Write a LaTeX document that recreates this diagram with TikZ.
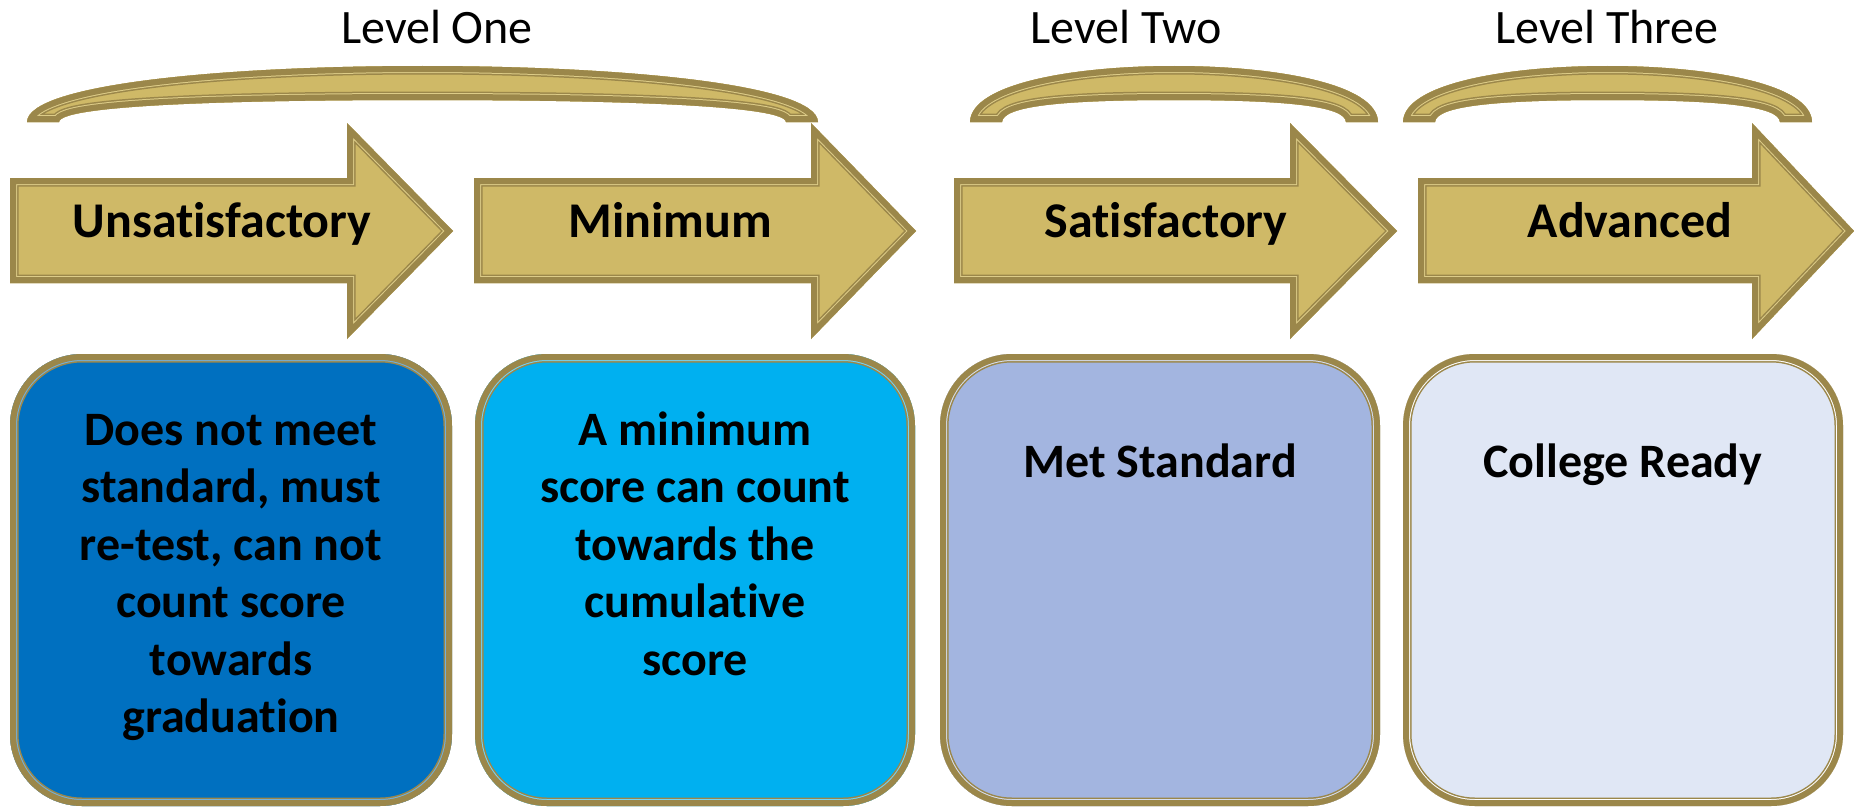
\documentclass[tikz,border=0pt]{standalone}
\usepackage{fontspec}
\setmainfont[Ligatures=NoCommon]{Carlito}
\definecolor{golddark}{HTML}{9B874A}
\definecolor{goldfill}{HTML}{CFB967}
\definecolor{goldgap}{HTML}{DDCC88}
\definecolor{boxA}{HTML}{0070C0}
\definecolor{boxB}{HTML}{00B0F0}
\definecolor{boxC}{HTML}{A3B5E0}
\definecolor{boxD}{HTML}{E0E7F5}
\tikzset{
  edgeband/.style={draw=golddark},
  leveltext/.style={font=\fontsize{48}{58}\selectfont, anchor=base, inner sep=0pt},
  arrowtext/.style={font=\bfseries\fontsize{50}{60}\selectfont, anchor=base, inner sep=0pt},
  boxtext/.style={font=\bfseries\fontsize{48}{57.5}\selectfont, align=center, anchor=base, inner sep=0pt},
}
% #1 scope options, #2 fill, #3 gap colour, #4 path
\newcommand\framedshape[4][]{%
  \begin{scope}[#1]
    \clip #4;
    \fill[#2] #4;
    \draw[edgeband, line width=17pt] #4;
    \draw[draw=#3, line width=14pt] #4;
    \draw[edgeband, line width=12pt] #4;
  \end{scope}}
% arrow: #1 left, #2 head start, #3 tip
\newcommand\arrowpath[3]{(#1,178) -- (#2,178) -- (#2,123) -- (#3,231) -- (#2,339) -- (#2,283) -- (#1,283) -- cycle}
% brace: #1 left, #2 right
\newcommand\bracepath[2]{(#1,122) .. controls ({#1+1},84) and ({#1+0.25*(#2-#1)},66) .. ({(#1+#2)/2},66)
  .. controls ({#2-0.25*(#2-#1)},66) and ({#2-1},84) .. (#2,122) -- ({#2-32},122)
  .. controls ({#2-33},106) and ({#2-0.25*(#2-#1)+10},100) .. ({(#1+#2)/2},100)
  .. controls ({#1+0.25*(#2-#1)-10},100) and ({#1+33},106) .. ({#1+32},122) -- cycle}
\begin{document}
\begin{tikzpicture}[x=1pt,y=-1pt]
\useasboundingbox (0,0) rectangle (1854,808);
\begin{scope}
\clip (0,0) rectangle (1854,808);
% level labels
\node[leveltext] (lv1) at (437,44) {Level One};
\node[leveltext] (lv2) at (1126,44) {Level Two};
\node[leveltext] (lv3) at (1607,44) {Level Three};
% braces
\framedshape{goldfill}{goldgap}{\bracepath{27}{818}}
\framedshape{goldfill}{goldgap}{\bracepath{970}{1378}}
\framedshape{goldfill}{goldgap}{\bracepath{1403}{1812}}
% arrows
\framedshape[line join=miter]{goldfill}{goldgap}{\arrowpath{10}{347}{453}}
\framedshape[line join=miter]{goldfill}{goldgap}{\arrowpath{474}{811}{916}}
\framedshape[line join=miter]{goldfill}{goldgap}{\arrowpath{954}{1290}{1397}}
\framedshape[line join=miter]{goldfill}{goldgap}{\arrowpath{1418}{1752}{1854}}
\node[arrowtext] (a1) at (222,237) {Unsatisfactory};
\node[arrowtext] (a2) at (670,237) {Minimum};
\node[arrowtext] (a3) at (1166,237) {Satisfactory};
\node[arrowtext] (a4) at (1630,237) {Advanced};
% boxes
\framedshape[rounded corners=72pt]{boxA}{boxA!55!white}{(10,354) rectangle (452,806)}
\framedshape[rounded corners=72pt]{boxB}{boxB!55!white}{(475,354) rectangle (915,806)}
\framedshape[rounded corners=72pt]{boxC}{boxC!45!white}{(940,354) rectangle (1380,806)}
\framedshape[rounded corners=72pt]{boxD}{white}{(1403,354) rectangle (1843,806)}
% multi-line nodes: base anchor is the last line's baseline
\node[boxtext] (b1) at (231,732.5) {Does not meet\\standard, must\\re-test, can not\\count score\\towards\\graduation};
\node[boxtext] (b2) at (695,675) {A minimum\\score can count\\towards the\\cumulative\\score};
\node[boxtext] (b3) at (1160,477) {Met Standard};
\node[boxtext] (b4) at (1623,477) {College Ready};
\end{scope}
\end{tikzpicture}
\end{document}
